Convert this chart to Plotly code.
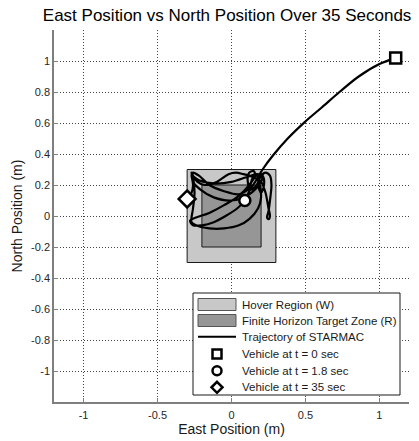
import plotly.graph_objects as go

# Region half-widths (m), centred on the origin
hover_half = 0.3
target_half = 0.2

# STARMAC east/north trajectory samples (m)
east = [1.11, 1.00, 0.86, 0.73, 0.61, 0.495, 0.38, 0.28, 0.21, 0.16, 0.12, 0.09,
        0.04, -0.04, -0.12, -0.20, -0.26, -0.28, -0.24, -0.15, -0.05, 0.05, 0.12,
        0.16, 0.15, 0.12, 0.11, 0.13, 0.17, 0.20, 0.23, 0.26, 0.27, 0.26, 0.25,
        0.24, 0.25, 0.26, 0.25, 0.23, 0.20, 0.15, 0.08, 0.03, -0.02, -0.10, -0.18,
        -0.23, -0.26, -0.27, -0.26, -0.25, -0.26, -0.27, -0.24, -0.15, -0.05, 0.05,
        0.12, 0.18, 0.20, 0.19, 0.17, 0.14, 0.12, 0.05, -0.05, -0.15, -0.22, -0.26,
        -0.27, -0.22, -0.12, 0.0, 0.10, 0.17, 0.21, 0.22, 0.20, 0.18, 0.19, 0.21,
        0.20, 0.12, 0.0, -0.12, -0.21, -0.26, -0.27, -0.26, -0.27, -0.30]
north = [1.02, 0.98, 0.90, 0.80, 0.70, 0.606, 0.50, 0.39, 0.30, 0.22, 0.16, 0.10,
         0.05, 0.00, -0.04, -0.06, -0.06, -0.03, -0.01, 0.02, 0.07, 0.13, 0.20,
         0.26, 0.29, 0.28, 0.22, 0.17, 0.20, 0.26, 0.28, 0.26, 0.20, 0.10, 0.03,
         -0.01, -0.02, 0.00, 0.05, 0.15, 0.22, 0.25, 0.27, 0.28, 0.27, 0.22, 0.20,
         0.22, 0.26, 0.28, 0.25, 0.15, 0.05, -0.04, -0.06, -0.08, -0.08, -0.06,
         -0.02, 0.05, 0.12, 0.20, 0.26, 0.24, 0.18, 0.14, 0.16, 0.20, 0.26, 0.28,
         0.27, 0.23, 0.21, 0.22, 0.25, 0.27, 0.26, 0.20, 0.15, 0.20, 0.26, 0.27,
         0.22, 0.14, 0.10, 0.12, 0.17, 0.22, 0.26, 0.20, 0.15, 0.11]

# Vehicle snapshots
snap_labels = ["Vehicle at t = 0 sec", "Vehicle at t = 1.8 sec", "Vehicle at t = 35 sec"]
snap_east = [1.11, 0.09, -0.30]
snap_north = [1.02, 0.10, 0.11]
snap_symbols = ["square", "circle", "diamond"]

region_labels = ["Hover Region (W)", "Finite Horizon Target Zone (R)"]
region_colors = ["#c8c8c8", "#969696"]
line_label = "Trajectory of STARMAC"

x_ticks = [-1, -0.5, 0, 0.5, 1]
y_ticks = [-1, -0.8, -0.6, -0.4, -0.2, 0, 0.2, 0.4, 0.6, 0.8, 1]

FONT = "Liberation Sans, Arial, sans-serif"
W, H = 419, 441
M_L, M_R, M_T, M_B = 54, 10, 30, 39
PLOT_W, PLOT_H = W - M_L - M_R, H - M_T - M_B


def square(h):
    return [-h, h, h, -h, -h], [-h, -h, h, h, -h]


def px(x):
    """Pixel column -> paper x."""
    return (x - M_L) / PLOT_W


def py(y):
    """Pixel row -> paper y."""
    return (H - M_B - y) / PLOT_H


fig = go.Figure()

for half, lab, col in zip([hover_half, target_half], region_labels, region_colors):
    rx, ry = square(half)
    fig.add_trace(go.Scatter(x=rx, y=ry, fill="toself", fillcolor=col,
                             mode="lines", line=dict(color="#1a1a1a", width=1),
                             name=lab, showlegend=False))
fig.add_trace(go.Scatter(x=east, y=north, mode="lines",
                         line=dict(color="black", width=2.2, shape="spline", smoothing=0.9),
                         name=line_label, showlegend=False))
for lab, ex, ny, sym in zip(snap_labels, snap_east, snap_north, snap_symbols):
    fig.add_trace(go.Scatter(x=[ex], y=[ny], mode="markers", name=lab, showlegend=False,
                             marker=dict(symbol=sym, size=11 if sym != "diamond" else 13,
                                         color="white",
                                         line=dict(color="black", width=2.5))))

# Legend box, keys and labels
shapes = []
annotations = []
box = dict(x0=193, x1=400, y0=293, y1=395)
shapes.append(dict(type="rect", xref="paper", yref="paper",
                   x0=px(box["x0"]), x1=px(box["x1"]), y0=py(box["y1"]), y1=py(box["y0"]),
                   fillcolor="white", line=dict(color="#1a1a1a", width=1), layer="above"))
rows = [304.5, 320.5, 336.7, 354.0, 370.7, 387.3]
labels = region_labels + [line_label] + snap_labels
key_x0, key_x1 = 198, 236
for i, col in enumerate(region_colors):
    yc = rows[i]
    shapes.append(dict(type="rect", xref="paper", yref="paper",
                       x0=px(key_x0), x1=px(key_x1), y0=py(yc + 6), y1=py(yc - 6),
                       fillcolor=col, line=dict(color="#555555", width=1), layer="above"))
shapes.append(dict(type="line", xref="paper", yref="paper",
                   x0=px(key_x0), x1=px(key_x1), y0=py(rows[2]), y1=py(rows[2]),
                   line=dict(color="black", width=2), layer="above"))
kx = (key_x0 + key_x1) / 2
r = 4.5
# square key
yc = rows[3]
shapes.append(dict(type="rect", xref="paper", yref="paper",
                   x0=px(kx - r), x1=px(kx + r), y0=py(yc + r), y1=py(yc - r),
                   fillcolor="white", line=dict(color="black", width=2.5), layer="above"))
# circle key
yc = rows[4]
shapes.append(dict(type="circle", xref="paper", yref="paper",
                   x0=px(kx - r), x1=px(kx + r), y0=py(yc + r), y1=py(yc - r),
                   fillcolor="white", line=dict(color="black", width=2.5), layer="above"))
# diamond key
yc = rows[5]
d = 5.5
shapes.append(dict(type="path", xref="paper", yref="paper",
                   path=(f"M{px(kx)},{py(yc - d)} L{px(kx + d)},{py(yc)} "
                         f"L{px(kx)},{py(yc + d)} L{px(kx - d)},{py(yc)} Z"),
                   fillcolor="white", line=dict(color="black", width=2.5), layer="above"))
for lab, yc in zip(labels, rows):
    annotations.append(dict(text=lab, xref="paper", yref="paper", x=px(240), y=py(yc),
                            xanchor="left", yanchor="middle", showarrow=False,
                            font=dict(family=FONT, size=11.5, color="#1a1a1a")))

axis_common = dict(
    range=[-1.2, 1.2], showline=True, linecolor="#7f7f7f", linewidth=1.5,
    mirror=False, ticks="inside", ticklen=4, tickcolor="#7f7f7f",
    showgrid=True, gridcolor="#444444", gridwidth=1, griddash="1px,2px",
    zeroline=False, automargin=False,
    tickfont=dict(family=FONT, size=11, color="#262626"),
)

fig.update_layout(
    width=W, height=H,
    margin=dict(l=M_L, r=M_R, t=M_T, b=M_B),
    paper_bgcolor="white", plot_bgcolor="white",
    font=dict(family=FONT, color="#1a1a1a"),
    title=dict(text="East Position vs North Position Over 35 Seconds",
               x=0.542, xanchor="center", y=0.966, yanchor="middle",
               font=dict(family=FONT, size=17, color="black")),
    xaxis=dict(axis_common, tickvals=x_ticks, ticktext=[f"{v:g}" for v in x_ticks],
               ticklabelstandoff=2,
               title=dict(text="East Position (m)", standoff=3,
                          font=dict(family=FONT, size=14))),
    yaxis=dict(axis_common, tickvals=y_ticks, ticktext=[f"{v:g}" for v in y_ticks],
               title=dict(text="North Position (m)", standoff=5,
                          font=dict(family=FONT, size=14))),
    shapes=shapes,
    annotations=annotations,
    showlegend=False,
)

fig.write_html("out.html")
